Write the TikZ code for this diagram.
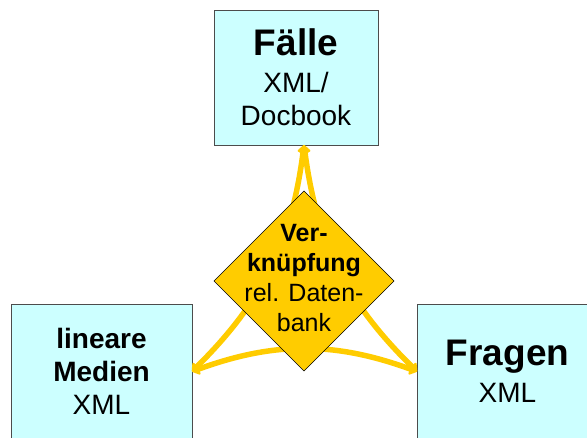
\documentclass[tikz,border=0pt]{standalone}
\usepackage{fontspec}
\setmainfont{Liberation Sans}
\usetikzlibrary{shapes.geometric,arrows.meta}
\definecolor{boxcyan}{HTML}{CCFFFF}
\definecolor{linkyellow}{HTML}{FFCC00}
\begin{document}
\begin{tikzpicture}[x=1pt,y=1pt,inner sep=0pt,outer sep=0pt,
databox/.style={draw=black!70,fill=boxcyan,rectangle,line width=0.8pt,align=center,minimum height=135pt,font=\fontsize{28}{33}\selectfont},
linkbox/.style={draw,diamond,fill=linkyellow,minimum size=180pt,line width=0.6pt},
linktext/.style={align=center,font=\fontsize{25}{30}\selectfont},
linkarrow/.style={draw=linkyellow,line width=5.5pt,{Triangle[length=8pt,width=13pt,round]}-{Triangle[length=8pt,width=13pt,round]}}]
\useasboundingbox (0,0) rectangle (587,437);
\clip (0,0) rectangle (587,437);
\draw (296,359.5) node[databox,minimum width=164pt] (fall) {{\fontsize{37}{37}\selectfont\bfseries Fälle}\\[4pt] XML/\\ Docbook};
\draw (101.5,65.5) node[databox,minimum width=181pt] (lin) {\bfseries lineare\\ \bfseries Medien\\ XML};
\draw (507.5,65.5) node[databox,minimum width=181pt] (frag) {{\fontsize{37}{37}\selectfont\bfseries Fragen}\\[4pt] XML};
\coordinate (tip) at ([xshift=8pt]fall.south);
% curved links between the three sources
\draw[linkarrow] (tip) to[bend left=19] (lin.east);
\draw[linkarrow] (lin.east) to[bend left=20] (frag.west);
\draw[linkarrow] (frag.west) to[bend left=19] (tip);
\draw (304,156) node[linkbox] (link) {};
\draw (link.center) ++(0,3) node[linktext] (linklabel) {\bfseries Ver-\\ \bfseries knüpfung\\ rel. Daten-\\ bank};
\end{tikzpicture}
\end{document}
